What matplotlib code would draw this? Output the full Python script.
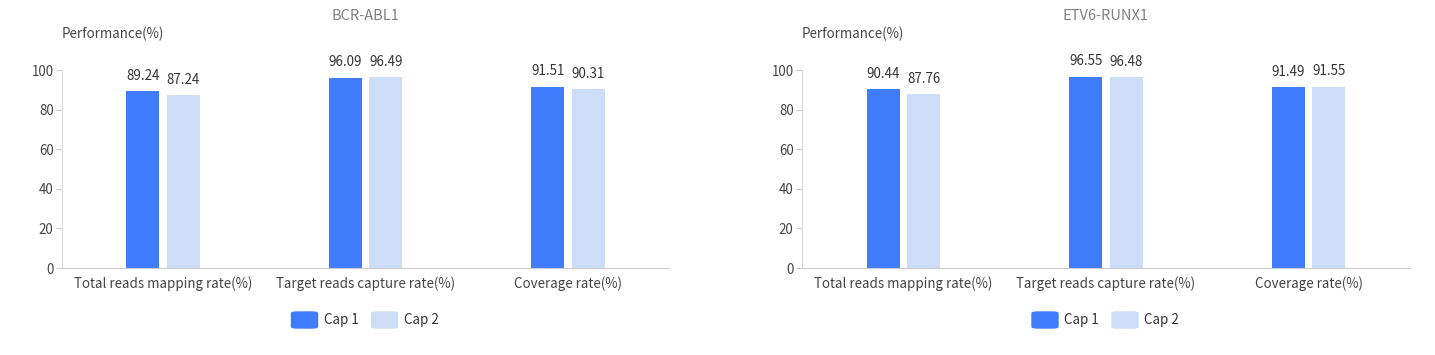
import matplotlib.pyplot as plt
from matplotlib.patches import FancyBboxPatch
import numpy as np

plt.rcParams['font.family'] = ['Noto Sans CJK SC', 'DejaVu Sans']

# 데이터
categories = ['Total reads mapping rate(%)', 'Target reads capture rate(%)', 'Coverage rate(%)']
titles = ['BCR-ABL1', 'ETV6-RUNX1']
bcr_cap1 = [89.24, 96.09, 91.51]
bcr_cap2 = [87.24, 96.49, 90.31]
etv_cap1 = [90.44, 96.55, 91.49]
etv_cap2 = [87.76, 96.48, 91.55]
series_names = ['Cap 1', 'Cap 2']
yticks = [0, 20, 40, 60, 80, 100]

c1 = '#3f7cfb'
c2 = '#cddcf7'

FW, FH = 1435, 355


def draw_panel(fig, rect, title, v1, v2):
    ax = fig.add_axes(rect)
    x = np.arange(len(categories))
    w = 0.163
    ax.bar(x - 0.1, v1, w, color=c1, zorder=2)
    ax.bar(x + 0.1, v2, w, color=c2, zorder=2)
    for i in range(len(x)):
        ax.annotate('%.2f' % v1[i], (x[i] - 0.1, v1[i]), xytext=(0, 6), textcoords='offset points',
                    ha='center', va='bottom', fontsize=9.6, color='#333333')
        ax.annotate('%.2f' % v2[i], (x[i] + 0.1, v2[i]), xytext=(0, 6), textcoords='offset points',
                    ha='center', va='bottom', fontsize=9.6, color='#333333')
    ax.set_xlim(-0.5, 2.5)
    ax.set_ylim(0, 100)
    ax.set_yticks(yticks)
    ax.set_xticks(x)
    ax.set_xticklabels(categories)
    ax.tick_params(axis='x', length=0, pad=6, labelsize=9.6, labelcolor='#444444')
    ax.tick_params(axis='y', length=4, color='#cccccc', pad=2, labelsize=9.6, labelcolor='#444444')
    for s in ['top', 'right']:
        ax.spines[s].set_visible(False)
    ax.spines['left'].set_color('#d9d9d9')
    ax.spines['bottom'].set_color('#cccccc')

    cx = rect[0] + rect[2] / 2
    fig.text(cx, 1 - 16 / FH, title, ha='center', va='center', fontsize=10.5, color='#808080')
    fig.text(rect[0], 1 - 34 / FH, 'Performance(%)', ha='left', va='center',
             fontsize=9.6, color='#444444')

    # 범례
    y = 1 - 320 / FH
    pw, ph = 26 / FW, 16 / FH
    items = [(cx - 74 / FW, c1, series_names[0]), (cx + 6 / FW, c2, series_names[1])]
    for px, col, name in items:
        fig.patches.append(FancyBboxPatch((px, y - ph / 2), pw, ph,
                                          boxstyle='round,pad=0,rounding_size=0.004',
                                          transform=fig.transFigure, color=col))
        fig.text(px + pw + 6 / FW, y, name, ha='left', va='center', fontsize=9.6, color='#333333')
    return ax


fig = plt.figure(figsize=(14.35, 3.55), dpi=100)
draw_panel(fig, [62 / FW, 87 / FH, 607 / FW, 198 / FH], titles[0], bcr_cap1, bcr_cap2)
draw_panel(fig, [802 / FW, 87 / FH, 608 / FW, 198 / FH], titles[1], etv_cap1, etv_cap2)
fig.savefig('out.png', dpi=100)
